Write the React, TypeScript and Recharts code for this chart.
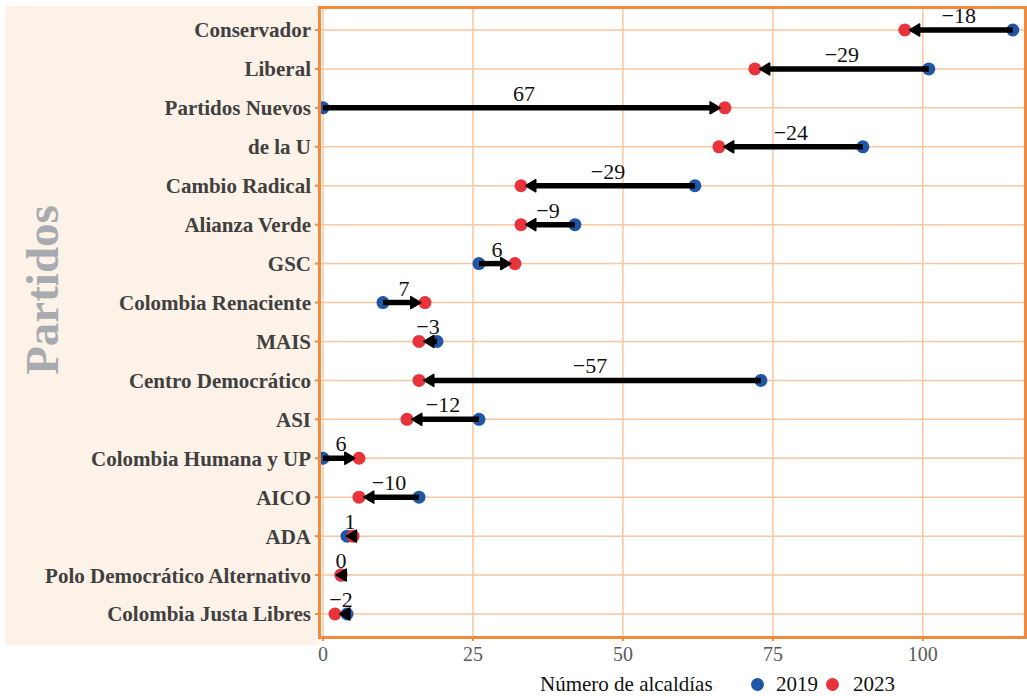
import React from 'react';
import {
  ComposedChart,
  Line,
  XAxis,
  YAxis,
  CartesianGrid,
  ReferenceLine,
  LabelList,
} from 'recharts';

const parties = [
  'Conservador',
  'Liberal',
  'Partidos Nuevos',
  'de la U',
  'Cambio Radical',
  'Alianza Verde',
  'GSC',
  'Colombia Renaciente',
  'MAIS',
  'Centro Democrático',
  'ASI',
  'Colombia Humana y UP',
  'AICO',
  'ADA',
  'Polo Democrático Alternativo',
  'Colombia Justa Libres',
];
const values2019 = [115, 101, 0, 90, 62, 42, 26, 10, 19, 73, 26, 0, 16, 4, 3, 4];
const values2023 = [97, 72, 67, 66, 33, 33, 32, 17, 16, 16, 14, 6, 6, 5, 3, 2];
const changes = [-18, -29, 67, -24, -29, -9, 6, 7, -3, -57, -12, 6, -10, 1, 0, -2];
const arrowTips = [97.8, 72.8, 66.2, 66.8, 33.8, 33.8, 31.3, 16.3, 16.8, 16.8, 14.8, 5.3, 6.8, 3.9, 2.2, 2.8];
const xTicks = [0, 25, 50, 75, 100];

const BLUE = '#1f56a6';
const RED = '#e8333a';
const ORANGE = '#f28a3e';
const GRID = '#f8c6a0';
const FONT = '"Liberation Serif", "DejaVu Serif", serif';

const data = parties.map((party, i) => ({
  party,
  y2019: values2019[i],
  y2023: values2023[i],
  mid: (values2019[i] + values2023[i]) / 2,
  change: changes[i],
  tip: arrowTips[i],
}));

const ArrowShape = (props: any) => {
  const { x1, y1, x2, y2 } = props;
  const dir = x2 >= x1 ? 1 : -1;
  const len = 10;
  const half = 6;
  const lineEnd = x2 - dir * 5;
  const drawLine = (lineEnd - x1) * dir > 0;
  return (
    <g>
      {drawLine && (
        <line x1={x1} y1={y1} x2={lineEnd} y2={y2} stroke="#000" strokeWidth={5.5} />
      )}
      <polygon
        points={`${x2},${y2} ${x2 - dir * len},${y2 - half} ${x2 - dir * len},${y2 + half}`}
        fill="#000"
        stroke="#000"
        strokeWidth={1.5}
        strokeLinejoin="round"
      />
    </g>
  );
};

const formatChange = (v: any) => {
  const n = Number(v);
  return n < 0 ? `\u2212${Math.abs(n)}` : `${n}`;
};

export default function App() {
  return (
    <div style={{ position: 'absolute', left: 0, top: 0, width: 1027, height: 696, background: '#fff', overflow: 'hidden' }}>
      <div
        style={{
          position: 'absolute',
          left: 5,
          top: 6,
          width: 314,
          height: 639,
          background: '#fdf2e8',
        }}
      />
      <div
        style={{
          position: 'absolute',
          left: 319,
          top: 7,
          width: 707,
          height: 630,
          background: '#ffffff',
        }}
      />
      <div
        style={{
          position: 'absolute',
          left: 42,
          top: 290,
          transform: 'translate(-50%, -50%) rotate(-90deg)',
          fontFamily: FONT,
          fontWeight: 'bold',
          fontSize: 47,
          color: '#a7aaae',
          whiteSpace: 'nowrap',
          lineHeight: 1,
        }}
      >
        Partidos
      </div>
      <div style={{ position: 'absolute', left: 0, top: 0 }}>
        <ComposedChart
          width={1027}
          height={696}
          data={data}
          layout="vertical"
          margin={{ top: 7, right: 1, bottom: 29, left: 0 }}
        >
          <CartesianGrid stroke={GRID} strokeWidth={1.5} />
          <XAxis
            type="number"
            domain={[-0.67, 117.2]}
            ticks={xTicks}
            allowDataOverflow
            axisLine={false}
            tickLine={{ stroke: ORANGE, strokeWidth: 2 }}
            tickSize={4}
            tickMargin={6}
            height={30}
            tick={{ fontFamily: FONT, fontSize: 20, fill: '#5a5a5a' }}
          />
          <YAxis
            type="category"
            dataKey="party"
            width={319}
            axisLine={false}
            tickLine={{ stroke: ORANGE, strokeWidth: 2 }}
            tickSize={4}
            tickMargin={4}
            padding={{ top: 23, bottom: 23 }}
            interval={0}
            tick={{ fontFamily: FONT, fontSize: 21, fontWeight: 'bold', fill: '#404040' }}
          />
          <Line
            dataKey="y2019"
            stroke="none"
            isAnimationActive={false}
            activeDot={false}
            dot={{ r: 6.5, fill: BLUE, stroke: 'none', fillOpacity: 1 }}
          />
          <Line
            dataKey="y2023"
            stroke="none"
            isAnimationActive={false}
            activeDot={false}
            dot={{ r: 6.5, fill: RED, stroke: 'none', fillOpacity: 1 }}
          />
          {data.map((d) => (
            <ReferenceLine
              key={d.party}
              segment={[
                { x: d.y2019, y: d.party },
                { x: d.tip, y: d.party },
              ]}
              ifOverflow="visible"
              shape={ArrowShape}
              {...({ zIndex: 1500 } as any)}
            />
          ))}
          <Line
            dataKey="mid"
            stroke="none"
            isAnimationActive={false}
            activeDot={false}
            dot={false}
          >
            <LabelList
              dataKey="change"
              position="top"
              offset={7}
              formatter={formatChange}
              style={{ fontFamily: FONT, fontSize: 22, fill: '#111' }}
            />
          </Line>
        </ComposedChart>
      </div>
      <div
        style={{
          position: 'absolute',
          left: 317.5,
          top: 5.5,
          width: 709.5,
          height: 633,
          border: `3px solid ${ORANGE}`,
          boxSizing: 'border-box',
          pointerEvents: 'none',
        }}
      />
      <div
        style={{
          position: 'absolute',
          left: 540,
          top: 671,
          fontFamily: FONT,
          fontSize: 21,
          color: '#111',
          whiteSpace: 'nowrap',
          lineHeight: '26px',
        }}
      >
        Número de alcaldías
      </div>
      <div style={{ position: 'absolute', left: 750.5, top: 677.5, width: 13, height: 13, borderRadius: '50%', background: BLUE }} />
      <div
        style={{
          position: 'absolute',
          left: 776,
          top: 671,
          fontFamily: FONT,
          fontSize: 21,
          color: '#111',
          lineHeight: '26px',
        }}
      >
        2019
      </div>
      <div style={{ position: 'absolute', left: 825.5, top: 677.5, width: 13, height: 13, borderRadius: '50%', background: RED }} />
      <div
        style={{
          position: 'absolute',
          left: 853,
          top: 671,
          fontFamily: FONT,
          fontSize: 21,
          color: '#111',
          lineHeight: '26px',
        }}
      >
        2023
      </div>
    </div>
  );
}
